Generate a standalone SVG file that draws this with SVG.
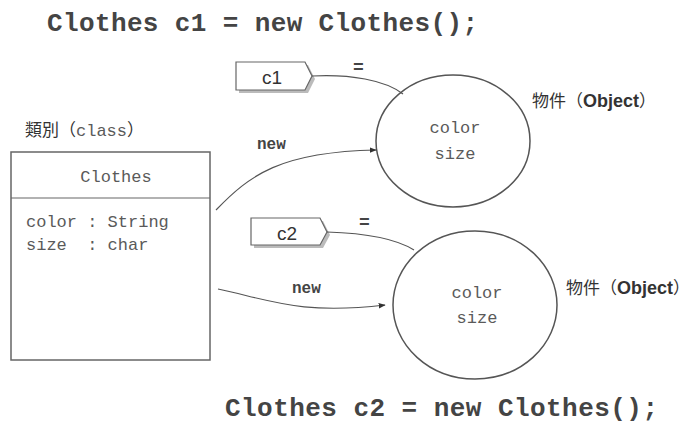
<svg xmlns="http://www.w3.org/2000/svg" width="699" height="425" viewBox="0 0 699 425">
<defs>
<marker id="ah" viewBox="0 0 10 10" refX="9" refY="5" markerWidth="7" markerHeight="7" orient="auto" markerUnits="userSpaceOnUse">
<path d="M0,1 L10,5 L0,9 Z" fill="#333"/>
</marker>
</defs>
<style>
.code{font-family:"Liberation Mono","Courier New",monospace;font-weight:bold;fill:#444}
.mono{font-family:"Liberation Mono","Courier New",monospace;fill:#5a5a5a}
.sans{font-family:"Liberation Sans",Arial,"Noto Sans CJK TC",sans-serif;fill:#333}
.edge{fill:none;stroke:#555;stroke-width:1.2}
.obj{fill:#fff;stroke:#555;stroke-width:1.5}
.tag{fill:#fff;stroke:#666;stroke-width:1.2}
</style>
<rect width="699" height="425" fill="#fff"/>
<text class="code" x="47" y="31" font-size="26" textLength="431">Clothes c1 = new Clothes();</text>
<text class="code" x="225" y="416" font-size="26" textLength="433">Clothes c2 = new Clothes();</text>

<g id="class">
<text class="sans" x="25" y="136" font-size="17" font-family="'Noto Sans CJK TC',sans-serif">類別（<tspan class="mono" fill="#444" font-family="'Liberation Mono',monospace">class</tspan>）</text>
<rect x="11" y="152" width="199" height="208" fill="#fff" stroke="#666" stroke-width="1.5"/>
<line x1="11" y1="198" x2="210" y2="198" stroke="#666" stroke-width="1.2"/>
<text class="mono" x="116" y="182" font-size="17" text-anchor="middle">Clothes</text>
<text class="mono" x="26" y="227" font-size="17" xml:space="preserve">color : String</text>
<text class="mono" x="26" y="250" font-size="17" xml:space="preserve">size  : char</text>
</g>

<g id="obj1">
<ellipse class="obj" cx="453" cy="141" rx="77" ry="66"/>
<text class="mono" x="455" y="133" font-size="17" text-anchor="middle">color</text>
<text class="mono" x="455" y="159" font-size="17" text-anchor="middle">size</text>
<text class="sans" x="532" y="107" font-size="17">物件（<tspan font-weight="bold" font-size="18">Object</tspan>）</text>
</g>

<g id="obj2">
<ellipse class="obj" cx="475" cy="305" rx="82" ry="74"/>
<text class="mono" x="477" y="298" font-size="17" text-anchor="middle">color</text>
<text class="mono" x="477" y="323" font-size="17" text-anchor="middle">size</text>
<text class="sans" x="566" y="294" font-size="17">物件（<tspan font-weight="bold" font-size="18">Object</tspan>）</text>
</g>

<g id="c1">
<path d="M239,65 H308 L315,79 L308,93 H239 Z" fill="#bbb"/>
<path class="tag" d="M236,62 H305 L312,76 L305,90 H236 Z"/>
<text class="sans" x="272" y="84" font-size="19" text-anchor="middle">c1</text>
</g>

<g id="c2">
<path d="M254,221 H323 L330,235 L323,248 H254 Z" fill="#bbb"/>
<path class="tag" d="M251,218 H320 L327,232 L320,245 H251 Z"/>
<text class="sans" x="287" y="240" font-size="19" text-anchor="middle">c2</text>
</g>

<g id="connectors">
<path class="edge" d="M312,76 C350,74 385,80 403,94"/>
<text class="code" x="353" y="73" font-size="18">=</text>
<path class="edge" d="M327,232 C360,233 395,238 414,250"/>
<text class="code" x="359" y="228" font-size="18">=</text>
<path class="edge" d="M216,210 C250,175 280,152 376,150" marker-end="url(#ah)"/>
<text class="code" x="257" y="149" font-size="16">new</text>
<path class="edge" d="M218,289 C270,300 300,315 385,305" marker-end="url(#ah)"/>
<text class="code" x="292" y="293" font-size="16">new</text>
</g>
</svg>
